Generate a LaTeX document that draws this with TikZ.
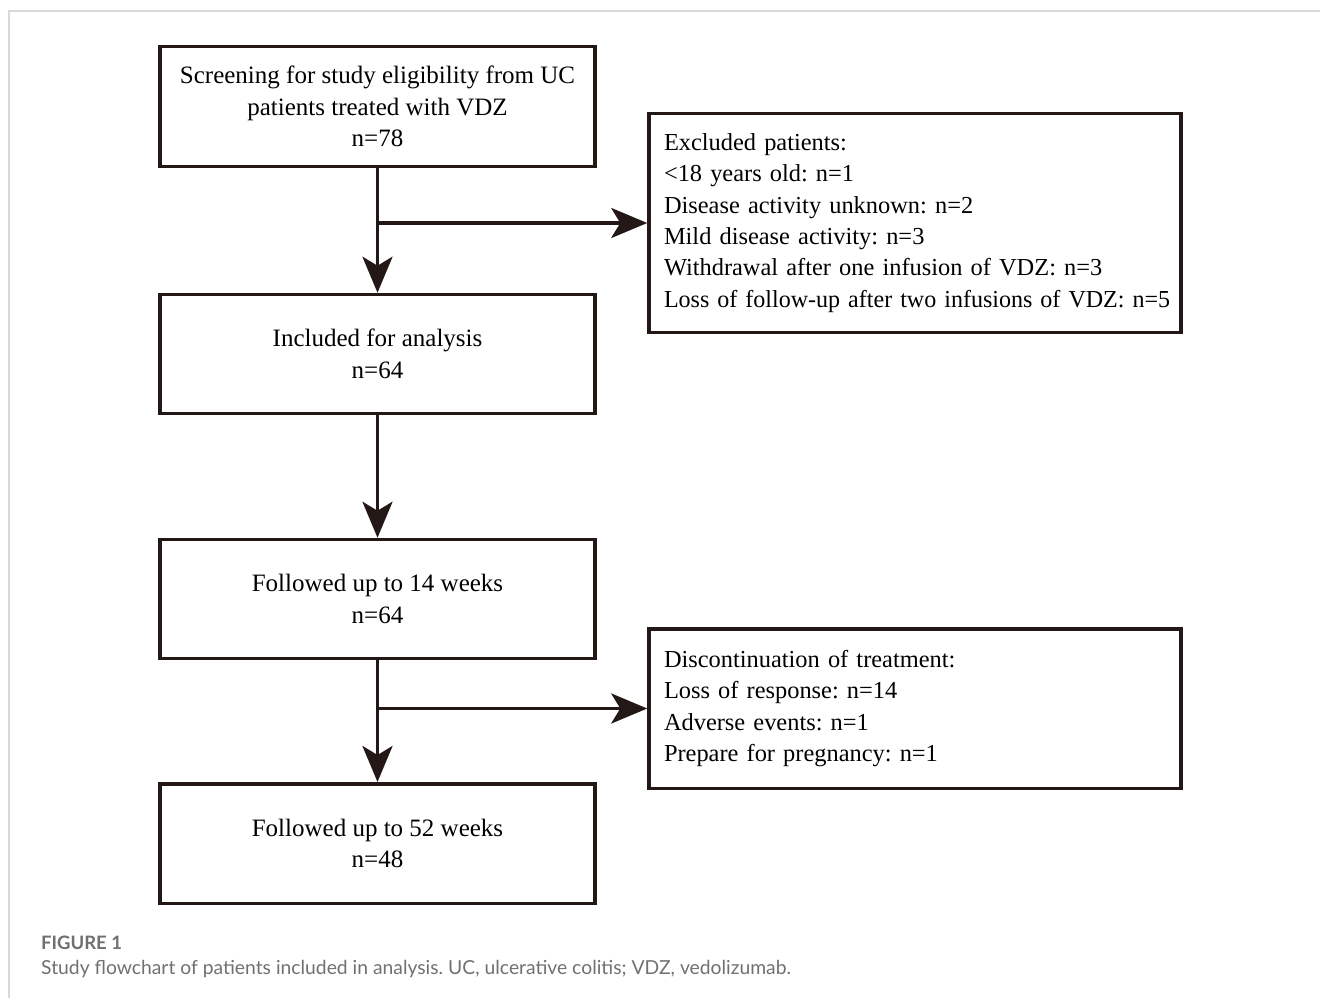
\documentclass[tikz,border=0pt]{standalone}
\usepackage{graphicx}
\usepackage{fontspec}
\setmainfont{Liberation Serif}
\newfontfamily\capfont{Lato}
\usetikzlibrary{arrows.meta,positioning}
\definecolor{ink}{HTML}{231815}
\definecolor{capgray}{HTML}{707070}
\definecolor{framegray}{HTML}{D8D8D8}
\frenchspacing
\newcommand{\mysidefont}{\fontsize{24.4pt}{31.4pt}\selectfont}
\tikzset{
  flowbox/.style={draw=ink, line width=3.5pt, minimum width=435pt, align=center, inner sep=0pt,
    font=\fontsize{25pt}{31.4pt}\selectfont},
  sidebox/.style={draw=ink, line width=3.5pt, text width=502pt, inner xsep=15pt, inner ysep=0pt, align=left,
    font=\mysidefont},
  arr/.style={draw=ink, line width=3.5pt, -{Stealth[length=36pt,width=30pt,inset=9pt]}},
}
\begin{document}
\begin{tikzpicture}[x=1pt,y=-1pt]
\useasboundingbox (0,0) rectangle (1320,998);
\draw[framegray, line width=1.5pt] (1320,11) -- (9,11) -- (9,998);
\node[flowbox, minimum height=119.5pt] (b1) at (377.5,106.5) {Screening for study eligibility from UC\\patients treated with VDZ\\n=78};
\node[flowbox, minimum height=119pt] (b2) at (377.5,354) {Included for analysis\\n=64};
\node[flowbox, minimum height=119pt] (b3) at (377.5,599) {Followed up to 14 weeks\\n=64};
\node[flowbox, minimum height=119.5pt] (b4) at (377.5,843.5) {Followed up to 52 weeks\\n=48};
\node[sidebox, minimum height=219pt] (ex) at (915,223) {Excluded patients:\\<18 years old: n=1\\Disease activity unknown: n=2\\Mild disease activity: n=3\\Withdrawal after one infusion of VDZ: n=3\\\scalebox{0.985}[1]{\mbox{Loss of follow-up after two infusions of VDZ: n=5}}};
\node[sidebox, minimum height=159.5pt] (dc) at (915,708.5) {Discontinuation of treatment:\\Loss of response: n=14\\Adverse events: n=1\\Prepare for pregnancy: n=1};
\draw[arr] (b1) -- (b2);
\draw[arr] (b1 |- ex.west) -- (ex.west);
\draw[arr] (b2) -- (b3);
\draw[arr] (b3) -- (b4);
\draw[arr] (b3 |- dc.west) -- (dc.west);
\node[anchor=base west, inner sep=0pt, text=capgray, font=\capfont\bfseries\fontsize{18.5pt}{20pt}\selectfont] (fig) at (41,949) {FIGURE 1};
\node[anchor=base west, inner sep=0pt, text=capgray, font=\capfont\fontsize{19.3pt}{20pt}\selectfont] (cap) at (41,974) {Study flowchart of patients included in analysis. UC, ulcerative colitis; VDZ, vedolizumab.};
\end{tikzpicture}
\end{document}
